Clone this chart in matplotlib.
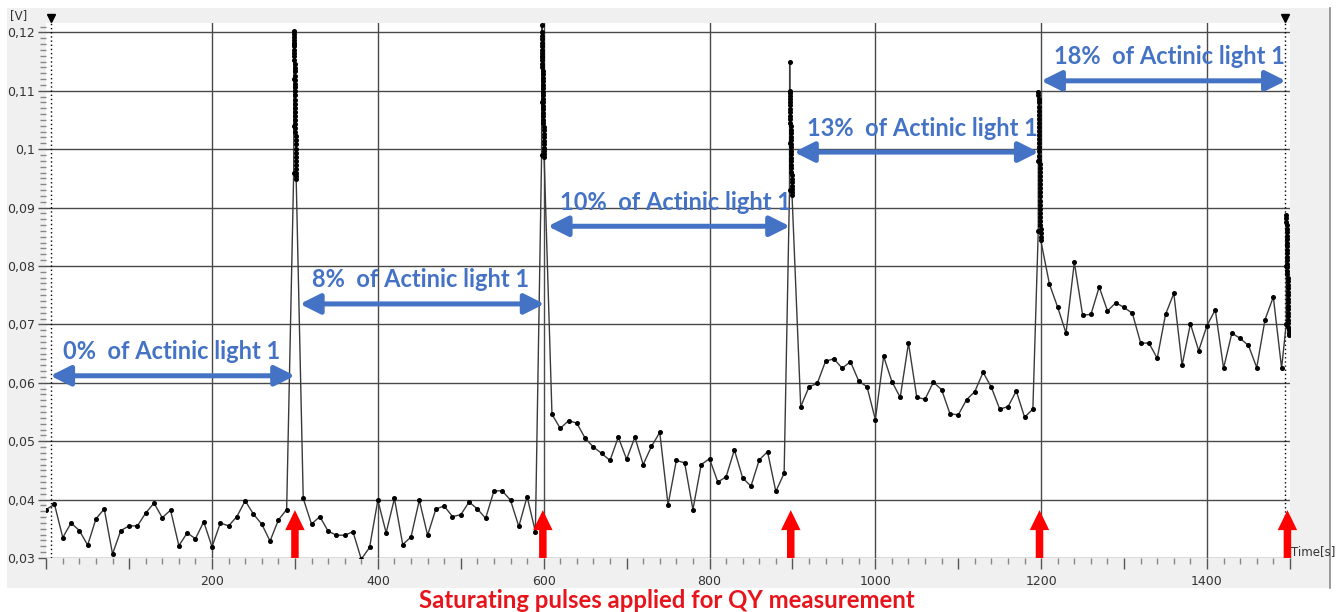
import numpy as np
import matplotlib
matplotlib.use("Agg")
import matplotlib.pyplot as plt
from matplotlib.patches import Rectangle
from matplotlib.ticker import MultipleLocator, FuncFormatter

# baseline samples every 10 s, between the saturating pulses
base_times_0 = list(range(0, 300, 10))
base_0 = [0.0383, 0.0392, 0.0335, 0.0360, 0.0347, 0.0322, 0.0367, 0.0384, 0.0307, 0.0347,
          0.0355, 0.0355, 0.0377, 0.0394, 0.0369, 0.0382, 0.0321, 0.0343, 0.0333, 0.0362,
          0.0319, 0.0360, 0.0355, 0.0371, 0.0398, 0.0375, 0.0358, 0.0329, 0.0365, 0.0383]
base_times_1 = list(range(310, 600, 10))
base_1 = [0.0402, 0.0358, 0.0371, 0.0346, 0.0339, 0.0339, 0.0345, 0.0298, 0.0318, 0.0399,
          0.0343, 0.0402, 0.0323, 0.0336, 0.0399, 0.0339, 0.0384, 0.0389, 0.0371, 0.0374,
          0.0396, 0.0384, 0.0368, 0.0415, 0.0415, 0.0399, 0.0354, 0.0405, 0.0345]
base_times_2 = list(range(610, 900, 10))
base_2 = [0.0546, 0.0522, 0.0535, 0.0531, 0.0505, 0.0490, 0.0479, 0.0467, 0.0507, 0.0469,
          0.0507, 0.0460, 0.0491, 0.0515, 0.0391, 0.0467, 0.0463, 0.0383, 0.0460, 0.0470,
          0.0430, 0.0439, 0.0485, 0.0437, 0.0423, 0.0468, 0.0482, 0.0414, 0.0445]
base_times_3 = list(range(910, 1200, 10))
base_3 = [0.0559, 0.0593, 0.0599, 0.0637, 0.0641, 0.0625, 0.0636, 0.0603, 0.0593, 0.0537,
          0.0645, 0.0602, 0.0575, 0.0668, 0.0575, 0.0572, 0.0601, 0.0588, 0.0547, 0.0545,
          0.0571, 0.0585, 0.0618, 0.0592, 0.0555, 0.0559, 0.0586, 0.0541, 0.0555]
base_times_4 = list(range(1210, 1500, 10))
base_4 = [0.0769, 0.0729, 0.0685, 0.0806, 0.0716, 0.0717, 0.0764, 0.0723, 0.0737, 0.0729,
          0.0719, 0.0668, 0.0668, 0.0642, 0.0717, 0.0753, 0.0630, 0.0701, 0.0655, 0.0698,
          0.0725, 0.0625, 0.0685, 0.0676, 0.0664, 0.0626, 0.0708, 0.0747, 0.0625]

# fast samples during each saturating pulse
pulse_times = [300, 599, 898, 1198, 1497]
pulse_300 = [0.0960, 0.1040, 0.1120, 0.1180, 0.1203,
             0.1198, 0.1192, 0.1187, 0.1181, 0.1176, 0.1170, 0.1165, 0.1159, 0.1152, 0.1146,
             0.1139, 0.1133, 0.1126, 0.1119, 0.1112, 0.1106, 0.1099, 0.1092, 0.1085, 0.1078,
             0.1071, 0.1064, 0.1057, 0.1050, 0.1043, 0.1036, 0.1029, 0.1022, 0.1015, 0.1008,
             0.1001, 0.0994, 0.0987, 0.0980, 0.0973, 0.0966, 0.0960, 0.0954, 0.0949]
pulse_600 = [0.0990, 0.1080, 0.1160, 0.1212,
             0.1200, 0.1194, 0.1188, 0.1182, 0.1176, 0.1170, 0.1164, 0.1158, 0.1152, 0.1146,
             0.1140, 0.1134, 0.1128, 0.1122, 0.1116, 0.1110, 0.1104, 0.1098, 0.1092, 0.1086,
             0.1080, 0.1074, 0.1068, 0.1062, 0.1056, 0.1050, 0.1044, 0.1038, 0.1032, 0.1026,
             0.1020, 0.1014, 0.1008, 0.1002, 0.0996, 0.0991, 0.0987]
pulse_900 = [0.0930, 0.1010, 0.1149, 0.1100,
             0.1096, 0.1091, 0.1086, 0.1080, 0.1075, 0.1069, 0.1063, 0.1057, 0.1051, 0.1045,
             0.1039, 0.1033, 0.1027, 0.1021, 0.1015, 0.1009, 0.1003, 0.0997, 0.0991, 0.0985,
             0.0979, 0.0973, 0.0967, 0.0961, 0.0955, 0.0949, 0.0943, 0.0937, 0.0932, 0.0927,
             0.0922]
pulse_1200 = [0.0860, 0.0980, 0.1098,
              0.1092, 0.1086, 0.1080, 0.1073, 0.1066, 0.1059, 0.1052, 0.1045, 0.1038, 0.1031,
              0.1024, 0.1017, 0.1010, 0.1003, 0.0996, 0.0989, 0.0982, 0.0975, 0.0968, 0.0961,
              0.0954, 0.0947, 0.0940, 0.0933, 0.0926, 0.0919, 0.0912, 0.0905, 0.0898, 0.0891,
              0.0884, 0.0877, 0.0870, 0.0863, 0.0857, 0.0850, 0.0844]
pulse_1500 = [0.0700, 0.0800, 0.0887,
              0.0882, 0.0876, 0.0870, 0.0864, 0.0858, 0.0852, 0.0846, 0.0840, 0.0834, 0.0828,
              0.0822, 0.0816, 0.0810, 0.0804, 0.0798, 0.0792, 0.0786, 0.0780, 0.0774, 0.0768,
              0.0762, 0.0756, 0.0750, 0.0744, 0.0738, 0.0732, 0.0726, 0.0720, 0.0714, 0.0708,
              0.0702, 0.0696, 0.0690, 0.0686, 0.0682]

# actinic light phases: label, start, end, arrow level
phase_labels = ["0%  of Actinic light 1", "8%  of Actinic light 1", "10%  of Actinic light 1",
                "13%  of Actinic light 1", "18%  of Actinic light 1"]
phase_start = [5, 306, 605, 902, 1200]
phase_end = [300, 601, 897, 1197, 1495]
phase_level = [0.0612, 0.0735, 0.0868, 0.0995, 0.1117]

cursor_times = [6, 1494]

W, H = 1343, 612
fig = plt.figure(figsize=(W / 100, H / 100), dpi=100)
fig.patches.append(Rectangle((7 / W, 1 - 588 / H), (1330 - 7) / W, (588 - 8) / H,
                             transform=fig.transFigure, facecolor="#f0f0f0", edgecolor="none", zorder=0))
fig.add_artist(plt.Line2D([1330 / W, 1330 / W], [1 - 588 / H, 1 - 8 / H], color="#8a8a8a", lw=1.2))

ax = fig.add_axes([46.2 / W, 1 - 558 / H, (1289.9 - 46.2) / W, (558 - 23) / H])
ax.set_zorder(2)
ax.set_facecolor("white")
ax.set_xlim(0, 1500)
ax.set_ylim(0.03, 0.1216)
for s in ax.spines.values():
    s.set_visible(False)

# build the trace
segs_t = [base_times_0, base_times_1, base_times_2, base_times_3, base_times_4]
segs_v = [base_0, base_1, base_2, base_3, base_4]
pulses = [pulse_300, pulse_600, pulse_900, pulse_1200, pulse_1500]
t_all, v_all = [], []
for bt, bv, pt, pv in zip(segs_t, segs_v, pulse_times, pulses):
    t_all += bt
    v_all += bv
    t_all += list(np.linspace(pt - 1.5, pt + 1.5, len(pv)))
    v_all += pv

# grid
for yv in np.arange(0.03, 0.1201, 0.01):
    ax.axhline(yv, color="#4a4a4a", lw=1, zorder=1)
for xv in range(200, 1500, 200):
    ax.axvline(xv, color="#4a4a4a", lw=1, zorder=1)

ax.plot(t_all, v_all, color="#3a3a3a", lw=1, marker="o", ms=2.6,
        mfc="black", mec="black", zorder=3)

# cursors
for ct in cursor_times:
    ax.axvline(ct, color="black", lw=1, ls=(0, (1, 2)), zorder=2)
    ax.plot([ct], [0.1224], marker="v", color="black", ms=6, clip_on=False, zorder=5)

# ticks
ax.yaxis.set_major_locator(MultipleLocator(0.01))
ax.yaxis.set_minor_locator(MultipleLocator(0.001))
ax.yaxis.set_major_formatter(FuncFormatter(lambda v, p: f"{round(v, 3):g}".replace(".", ",")))
ax.xaxis.set_major_locator(MultipleLocator(100))
ax.xaxis.set_minor_locator(MultipleLocator(20))
ax.xaxis.set_major_formatter(FuncFormatter(
    lambda v, p: f"{int(round(v))}" if (round(v) % 200 == 0 and 0 < v < 1500) else ""))
ax.tick_params(axis="y", which="major", length=6, width=1, color="#555555",
               labelsize=9, labelcolor="#333333", pad=2)
ax.tick_params(axis="y", which="minor", length=4, width=1, color="#888888")
ax.tick_params(axis="x", which="major", length=8, width=1, color="#555555",
               labelsize=9, labelcolor="#333333", pad=4.5)
ax.tick_params(axis="x", which="minor", length=4, width=1, color="#888888")

fig.text(10 / W, 1 - 16 / H, "[V]", fontsize=8.5, color="#333333", va="center", ha="left")
fig.text(1291 / W, 1 - 552 / H, "Time[s]", fontsize=8.5, color="#333333", va="center", ha="left",
         zorder=5)

# actinic light phases
blue = "#4472c4"
for lab, x0, x1, lv in zip(phase_labels, phase_start, phase_end, phase_level):
    ax.annotate("", xy=(x0, lv), xytext=(x1, lv),
                arrowprops=dict(arrowstyle="<|-|>,head_length=1.2,head_width=0.6",
                                mutation_scale=10, lw=3.6, color=blue,
                                shrinkA=0, shrinkB=0), zorder=4)
    ax.text(x0 + 15, lv + 0.0041, lab, color=blue, fontsize=17, fontweight="bold",
            family="Lato", ha="left", va="center", zorder=4)

# saturating pulses
for pt in pulse_times:
    ax.annotate("", xy=(pt, 0.0382), xytext=(pt, 0.03), annotation_clip=False,
                arrowprops=dict(arrowstyle="simple,head_length=0.72,head_width=0.7,tail_width=0.27",
                                mutation_scale=20, color="#ff0000", lw=0,
                                shrinkA=0, shrinkB=0), zorder=4)

fig.text(667 / W, 1 - 600 / H, "Saturating pulses applied for QY measurement",
         color="#e8141c", fontsize=17.2, fontweight="bold", family="Lato",
         ha="center", va="center")

fig.savefig("out.png", dpi=100)
